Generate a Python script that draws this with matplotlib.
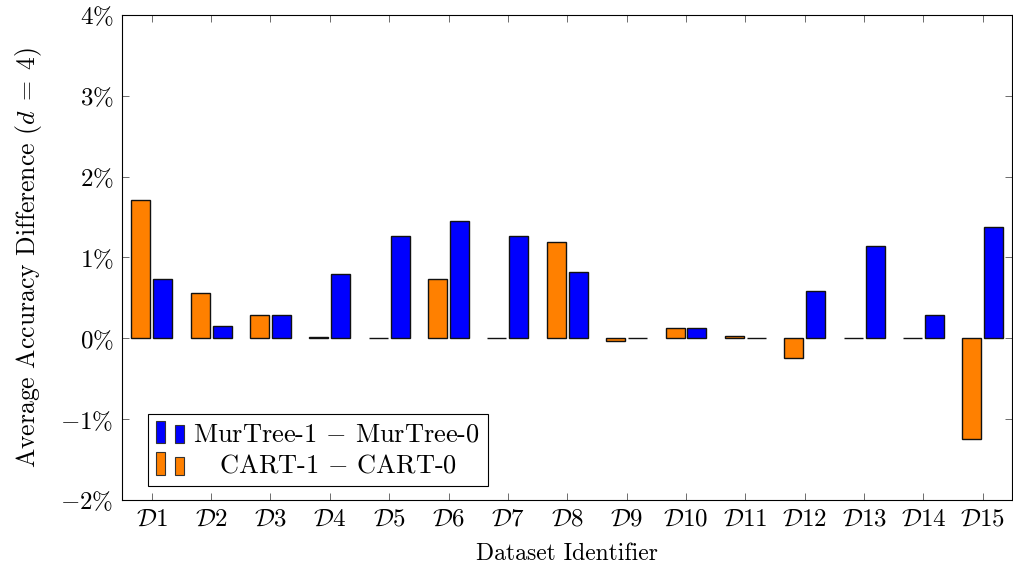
import matplotlib
matplotlib.use("Agg")
from matplotlib import pyplot as plt
from matplotlib.patches import Rectangle
from matplotlib.legend_handler import HandlerBase

plt.rcParams['font.family'] = 'serif'
plt.rcParams['font.serif'] = ['cmr10']
plt.rcParams['mathtext.fontset'] = 'cm'
plt.rcParams['axes.formatter.use_mathtext'] = True

datasets = ['1', '2', '3', '4', '5', '6', '7', '8', '9', '10', '11', '12', '13', '14', '15']
cart_diff = [1.71, 0.56, 0.29, 0.02, 0.0, 0.74, 0.0, 1.19, -0.03, 0.13, 0.03, -0.24, 0.0, 0.0, -1.24]
murtree_diff = [0.74, 0.155, 0.29, 0.79, 1.27, 1.45, 1.26, 0.82, 0.0, 0.13, 0.0, 0.59, 1.14, 0.29, 1.38]
yticks = [-2, -1, 0, 1, 2, 3, 4]

orange = '#ff8000'
blue = '#0000ff'


class TwoBars(HandlerBase):
	# pgfplots style legend image: two little bars side by side
	def __init__(self, color):
		super().__init__()
		self.color = color

	def create_artists(self, legend, orig, xd, yd, w, h, fs, trans):
		bw = w * 0.3
		r1 = Rectangle((xd, yd - h * 0.1), bw, h * 1.2, facecolor=self.color,
			edgecolor='#333333', lw=0.8, transform=trans)
		r2 = Rectangle((xd + w * 0.6, yd - h * 0.1), bw, h * 0.95, facecolor=self.color,
			edgecolor='#333333', lw=0.8, transform=trans)
		return [r1, r2]


fig = plt.figure(figsize=(10.13, 5.69), dpi=100)
ax = fig.add_axes([0.1205, 0.121, 0.879, 0.853])

x = list(range(len(datasets)))
w = 0.32
off = 0.185
b1 = ax.bar([i + off for i in x], murtree_diff, width=w, color=blue, edgecolor='#111111', lw=1.0)
b2 = ax.bar([i - off for i in x], cart_diff, width=w, color=orange, edgecolor='#111111', lw=1.0)

ax.set_xlim(-0.5, 14.5)
ax.set_ylim(-2, 4)
ax.set_yticks(yticks)
ax.set_yticklabels([r'$%d\%%$' % v for v in yticks])
ax.set_xticks(x)
ax.set_xticklabels([r'$\mathcal{D}%s$' % d for d in datasets])
ax.tick_params(direction='in', length=5, width=0.6, color='#555555',
	top=True, right=True, labelsize=18, pad=6)
for s in ax.spines.values():
	s.set_linewidth(0.8)

ax.set_xlabel('Dataset Identifier', fontsize=17, labelpad=9)
ax.set_ylabel(r'Average Accuracy Difference ($d\;=\;4$)', fontsize=18.5, labelpad=12)

leg = ax.legend([b1, b2], [r'MurTree-1 $-$ MurTree-0', r'   CART-1 $-$ CART-0'],
	loc='lower left', bbox_to_anchor=(0.029, 0.03), borderaxespad=0, fontsize=19,
	handler_map={b1: TwoBars(blue), b2: TwoBars(orange)},
	handlelength=1.2, handletextpad=0.2, borderpad=0.3, labelspacing=0.3,
	fancybox=False, edgecolor='black', framealpha=1)
leg.get_frame().set_linewidth(0.8)

fig.savefig('out.png', dpi=100)
